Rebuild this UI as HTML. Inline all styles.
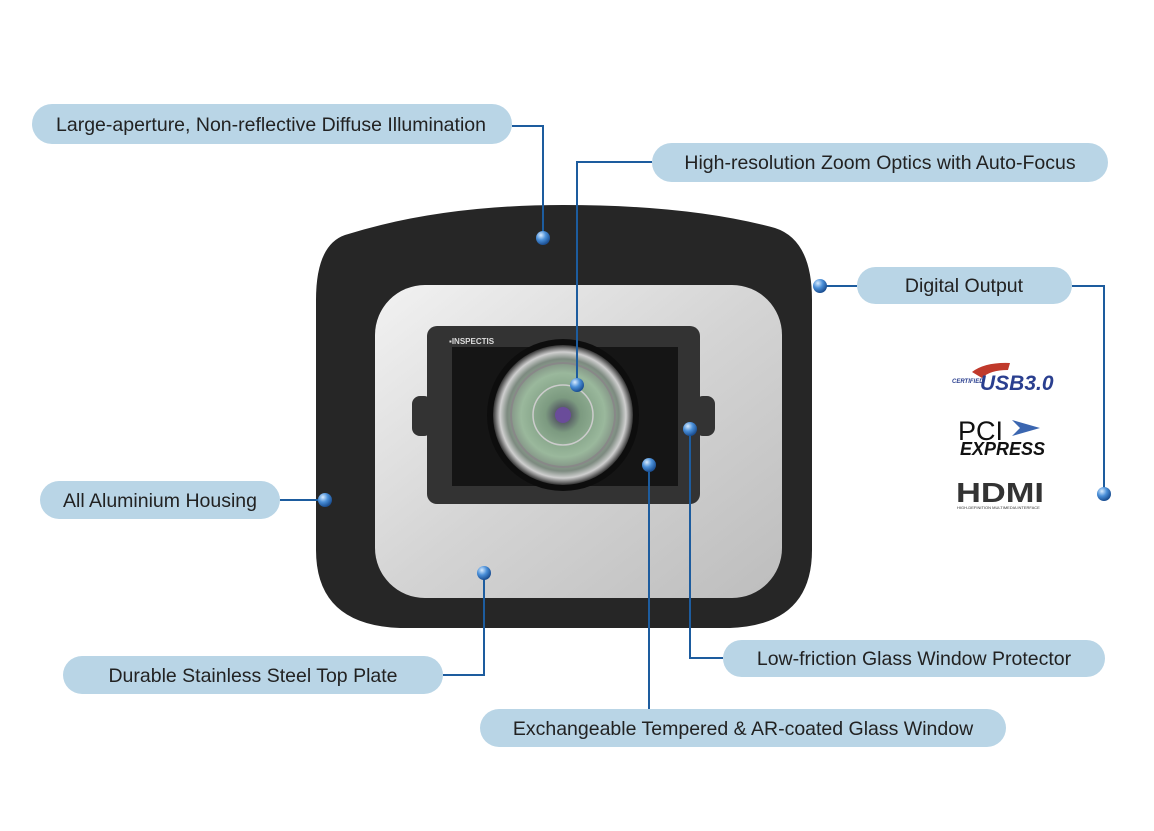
<!DOCTYPE html>
<html><head><meta charset="utf-8"><style>
body{margin:0;background:#fff;}
svg text{font-family:"Liberation Sans",sans-serif;}
</style></head><body>
<svg width="1154" height="826" viewBox="0 0 1154 826" xmlns="http://www.w3.org/2000/svg">
<defs>
<radialGradient id="dot" cx="0.35" cy="0.3" r="0.7"><stop offset="0" stop-color="#d8ecff"/><stop offset="0.5" stop-color="#4a8fd8"/><stop offset="1" stop-color="#1b4f92"/></radialGradient>
<linearGradient id="steel" x1="0" y1="0" x2="1" y2="1"><stop offset="0" stop-color="#f2f2f2"/><stop offset="0.5" stop-color="#d4d4d4"/><stop offset="1" stop-color="#bdbdbd"/></linearGradient>
<radialGradient id="lens" cx="0.5" cy="0.5" r="0.5"><stop offset="0" stop-color="#3a3050"/><stop offset="0.25" stop-color="#7c9a80"/><stop offset="0.6" stop-color="#9ab89c"/><stop offset="0.8" stop-color="#7d8a80"/><stop offset="0.9" stop-color="#cfcfcf"/><stop offset="1" stop-color="#333"/></radialGradient>
</defs>
<path d="M345,235 Q440,205 563,205 Q690,205 775,228 Q812,240 812,300 L812,550 Q812,625 730,628 L400,628 Q316,625 316,550 L316,300 Q316,245 345,235 Z" fill="#262626"/>
<rect x="375" y="285" width="407" height="313" rx="50" fill="url(#steel)"/>
<rect x="412" y="396" width="20" height="40" rx="8" fill="#333"/>
<rect x="695" y="396" width="20" height="40" rx="8" fill="#333"/>
<rect x="427" y="326" width="273" height="178" rx="10" fill="#333"/>
<rect x="452" y="347" width="226" height="139" fill="#151515"/>
<text x="449" y="344" font-size="8" fill="#ddd" font-weight="bold">▪INSPECTIS</text>
<circle cx="563" cy="415" r="76" fill="#0d0d0d"/>
<circle cx="563" cy="415" r="70" fill="url(#lens)"/>
<circle cx="563" cy="415" r="52" fill="none" stroke="#888" stroke-width="2"/>
<circle cx="563" cy="415" r="30" fill="none" stroke="#ccc" stroke-width="1.5"/>
<circle cx="563" cy="415" r="8" fill="#6a4c9a"/>
<g fill="#b9d5e6">
<rect x="32" y="104" width="480" height="40" rx="20"/>
<rect x="652" y="143" width="456" height="39" rx="19.5"/>
<rect x="857" y="267" width="215" height="37" rx="18.5"/>
<rect x="40" y="481" width="240" height="38" rx="19"/>
<rect x="63" y="656" width="380" height="38" rx="19"/>
<rect x="723" y="640" width="382" height="37" rx="18.5"/>
<rect x="480" y="709" width="526" height="38" rx="19"/>
</g>
<g font-size="19.5" fill="#222" text-anchor="middle">
<text x="271" y="131">Large-aperture, Non-reflective Diffuse Illumination</text>
<text x="880" y="169">High-resolution Zoom Optics with Auto-Focus</text>
<text x="964" y="292">Digital Output</text>
<text x="160" y="507">All Aluminium Housing</text>
<text x="253" y="682">Durable Stainless Steel Top Plate</text>
<text x="914" y="665">Low-friction Glass Window Protector</text>
<text x="743" y="735">Exchangeable Tempered &amp; AR-coated Glass Window</text>
</g>
<g fill="none" stroke="#1d5c9e" stroke-width="2">
<polyline points="512,126 543,126 543,238"/>
<polyline points="652,162 577,162 577,385"/>
<polyline points="857,286 820,286"/>
<polyline points="1072,286 1104,286 1104,494"/>
<polyline points="280,500 325,500"/>
<polyline points="443,675 484,675 484,573"/>
<polyline points="723,658 690,658 690,429"/>
<polyline points="649,709 649,465"/>
</g>
<g fill="url(#dot)">
<circle cx="543" cy="238" r="7"/><circle cx="577" cy="385" r="7"/>
<circle cx="820" cy="286" r="7"/><circle cx="1104" cy="494" r="7"/>
<circle cx="325" cy="500" r="7"/><circle cx="484" cy="573" r="7"/>
<circle cx="690" cy="429" r="7"/><circle cx="649" cy="465" r="7"/>
</g>
<path d="M972,372 Q985,362 1010,363 L1008,370 Q990,370 982,378 Z" fill="#c0392b"/>
<text x="952" y="383" font-size="6" font-style="italic" font-weight="bold" fill="#2a3f8f">CERTIFIED</text>
<text x="980" y="390" font-size="21" font-style="italic" font-weight="bold" fill="#2a3f8f">USB3.0</text>
<text x="958" y="440" font-size="27" fill="#111">PCI</text>
<path d="M1012,420 L1040,428 L1012,436 L1020,428 Z" fill="#3b66b0"/>
<text x="960" y="455" font-size="18" font-weight="bold" font-style="italic" fill="#111">EXPRESS</text>
<text x="956" y="502" font-size="28" font-weight="bold" fill="#333" textLength="88" lengthAdjust="spacingAndGlyphs">HDMI</text>
<text x="957" y="509" font-size="4" fill="#333">HIGH-DEFINITION MULTIMEDIA INTERFACE</text>
</svg>
</body></html>
